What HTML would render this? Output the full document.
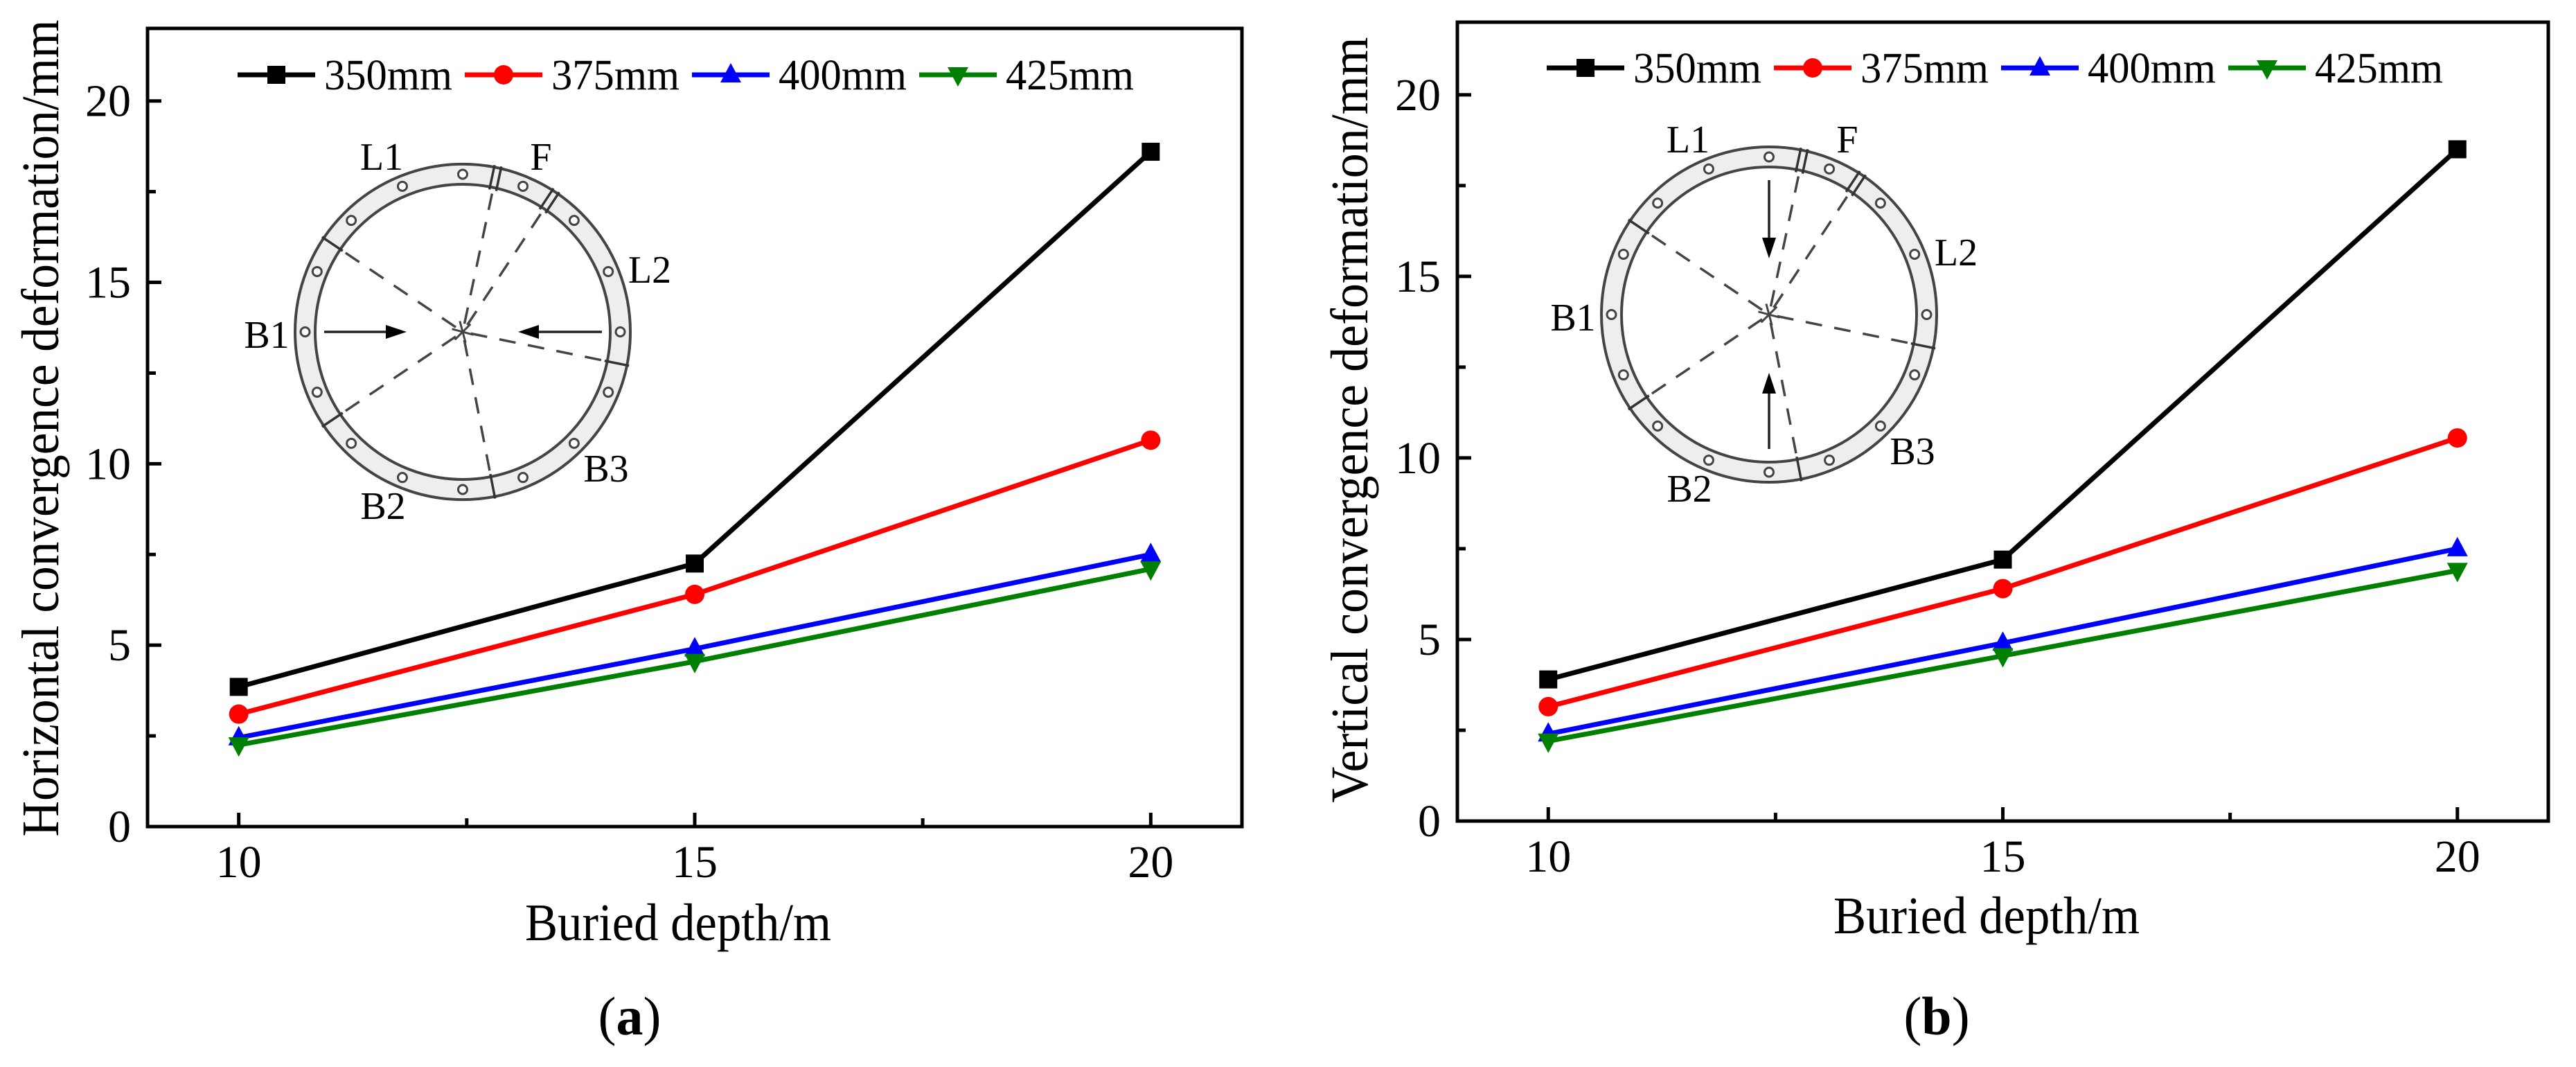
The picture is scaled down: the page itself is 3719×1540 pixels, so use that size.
<!DOCTYPE html>
<html><head><meta charset="utf-8">
<style>
html,body{margin:0;padding:0;background:#fff;}
svg{display:block;font-family:"Liberation Serif",serif;}
</style></head>
<body>
<svg id="fig" width="3719" height="1540" viewBox="0 0 3719 1540" xmlns="http://www.w3.org/2000/svg"></svg>
<script>
const categories = [10, 15, 20];
const seriesNames = ["350mm", "375mm", "400mm", "425mm"];
const seriesColors = ["#000000", "#ff0000", "#0000ff", "#008000"];
const seriesMarkers = ["square", "circle", "triangle-up", "triangle-down"];
const hSeries350 = [3.85, 7.25, 18.6];
const hSeries375 = [3.1, 6.4, 10.65];
const hSeries400 = [2.45, 4.9, 7.5];
const hSeries425 = [2.25, 4.55, 7.1];
const vSeries350 = [3.9, 7.2, 18.5];
const vSeries375 = [3.15, 6.4, 10.55];
const vSeries400 = [2.4, 4.9, 7.5];
const vSeries425 = [2.2, 4.55, 6.9];
const yTickLabels = [0, 5, 10, 15, 20];
const xTickLabels = [10, 15, 20];
const yMinorTicks = [2.5, 7.5, 12.5, 17.5];
const xMinorTicks = [12.5, 17.5];

const NS = "http://www.w3.org/2000/svg";
const svg = document.getElementById("fig");
function mk(tag, attrs, parent) {
  const e = document.createElementNS(NS, tag);
  for (const k in attrs) e.setAttribute(k, attrs[k]);
  (parent || svg).appendChild(e);
  return e;
}

function drawInset(g, cx, cy, mode) {
  const R = 242, r = 213, rm = (R + r) / 2;
  const ring = mk("path", {d: `M${cx-R},${cy} a${R},${R} 0 1,0 ${2*R},0 a${R},${R} 0 1,0 ${-2*R},0 Z M${cx-r},${cy} a${r},${r} 0 1,1 ${2*r},0 a${r},${r} 0 1,1 ${-2*r},0 Z`, fill: "#eeeeee", "fill-rule": "evenodd", stroke: "#444", "stroke-width": 4}, g);
  
  
  for (let i = 0; i < 16; i++) {
    const a = i * 22.5 * Math.PI / 180;
    const h = mk("circle", {cx: cx + rm*Math.sin(a), cy: cy - rm*Math.cos(a), r: 6.5, fill: "#fff", stroke: "#444", "stroke-width": 3}, g);
    
    
  }
  const joints = [12, 33.5, -56, -124, 169, 101.5];
  joints.forEach((deg, idx) => {
    const a = deg * Math.PI / 180, s = Math.sin(a), c = Math.cos(a);
    const dl = mk("line", {x1: cx + 12*s, y1: cy - 12*c, x2: cx + (r)*s, y2: cy - (r)*c, stroke: "#444", "stroke-width": 3.5, "stroke-dasharray": "24,18"}, g);
    
    
    const offs = idx < 2 ? [-5, 5] : [0];
    offs.forEach(o => {
      const px = c * o, py = s * o;
      const jl = mk("line", {x1: cx + (r-4)*s + px, y1: cy - (r-4)*c + py, x2: cx + (R+3)*s + px, y2: cy - (R+3)*c + py, stroke: "#333", "stroke-width": 3.5}, g);
      
      
    });
  });
  for (let k = 0; k < 3; k++) {
    const a = (k * 60 + 15) * Math.PI / 180;
    const sl = mk("line", {x1: cx - 16*Math.cos(a), y1: cy - 16*Math.sin(a), x2: cx + 16*Math.cos(a), y2: cy + 16*Math.sin(a), stroke: "#444", "stroke-width": 3}, g);
    
    
  }
  const labels = [["L1", -117, -253], ["F", 113, -253], ["L2", 270, -90], ["B1", -283, 4], ["B3", 207, 197], ["B2", -115, 251]];
  labels.forEach(l => {
    const t = mk("text", {x: cx + l[1], y: cy + l[2] + 19, "font-size": 56, "text-anchor": "middle", fill: "#000"}, g);
    t.textContent = l[0];
    
    
  });
  const arrows = mode === "h"
    ? [[cx-200, cy, cx-81, cy], [cx+201, cy, cx+80, cy]]
    : [[cx, cy-194, cx, cy-81], [cx, cy+194, cx, cy+84]];
  arrows.forEach(a => {
    const dx = a[2]-a[0], dy = a[3]-a[1], L = Math.hypot(dx, dy), ux = dx/L, uy = dy/L;
    const bx = a[2] - ux*30, by = a[3] - uy*30;
    const ln = mk("line", {x1: a[0], y1: a[1], x2: bx, y2: by, stroke: "#222", "stroke-width": 3.5}, g);
    
    
    const hd = mk("polygon", {points: `${a[2]},${a[3]} ${bx - uy*10},${by + ux*10} ${bx + uy*10},${by - ux*10}`, fill: "#000"}, g);
    
    
  });
}

function marker(g, type, x, y, color) {
  let e;
  if (type === "square") e = mk("rect", {x: x-13, y: y-13, width: 26, height: 26, fill: color}, g);
  else if (type === "circle") e = mk("circle", {cx: x, cy: y, r: 14, fill: color}, g);
  else if (type === "triangle-up") e = mk("polygon", {points: `${x},${y-17} ${x-15},${y+11} ${x+15},${y+11}`, fill: color}, g);
  else e = mk("polygon", {points: `${x},${y+17} ${x-15},${y-11} ${x+15},${y-11}`, fill: color}, g);
  return e;
}

function drawChart(cfg) {
  const g = mk("g", {});
  
  
  const X = v => cfg.left + (v - 9) / 12 * (cfg.right - cfg.left);
  const Y = v => cfg.bottom - v / 22 * (cfg.bottom - cfg.top);
  const ig = mk("g", {}, g);
  
  
  drawInset(ig, cfg.insetX, cfg.insetY, cfg.mode);
  cfg.series.forEach((vals, si) => {
    const sg = mk("g", {}, g);
    
    
    const pts = vals.map((v, i) => X(categories[i]) + "," + Y(v)).join(" ");
    const pl = mk("polyline", {points: pts, fill: "none", stroke: seriesColors[si], "stroke-width": 7}, sg);
    
    
    vals.forEach((v, i) => {
      const m = marker(sg, seriesMarkers[si], X(categories[i]), Y(v), seriesColors[si]);
      
      
    });
  });
  const fr = mk("rect", {x: cfg.left, y: cfg.top, width: cfg.right - cfg.left, height: cfg.bottom - cfg.top, fill: "none", stroke: "#000", "stroke-width": 5}, g);
  
  
  yTickLabels.forEach(v => {
    const t = mk("line", {x1: cfg.left, y1: Y(v), x2: cfg.left + 20, y2: Y(v), stroke: "#000", "stroke-width": 5}, g);
    
    
    const l = mk("text", {x: cfg.left - 24, y: Y(v) + 22, "font-size": 66, "text-anchor": "end"}, g);
    l.textContent = v;
    
    
  });
  yMinorTicks.forEach(v => {
    const t = mk("line", {x1: cfg.left, y1: Y(v), x2: cfg.left + 12, y2: Y(v), stroke: "#000", "stroke-width": 5}, g);
    
    
  });
  xTickLabels.forEach(v => {
    const t = mk("line", {x1: X(v), y1: cfg.bottom, x2: X(v), y2: cfg.bottom - 20, stroke: "#000", "stroke-width": 5}, g);
    
    
    const l = mk("text", {x: X(v), y: cfg.bottom + 73, "font-size": 66, "text-anchor": "middle"}, g);
    l.textContent = v;
    
    
  });
  xMinorTicks.forEach(v => {
    const t = mk("line", {x1: X(v), y1: cfg.bottom, x2: X(v), y2: cfg.bottom - 12, stroke: "#000", "stroke-width": 5}, g);
    
    
  });
  const lg = mk("g", {}, g);
  
  
  seriesNames.forEach((n, si) => {
    const x0 = cfg.legX + si * cfg.legStep;
    const eg = mk("g", {}, lg);
    
    
    mk("line", {x1: x0, y1: cfg.legY, x2: x0 + 112, y2: cfg.legY, stroke: seriesColors[si], "stroke-width": 7}, eg);
    marker(eg, seriesMarkers[si], x0 + 56, cfg.legY, seriesColors[si]);
    const t = mk("text", {x: x0 + 125, y: cfg.legY + 21, "font-size": 62, textLength: 185, lengthAdjust: "spacingAndGlyphs"}, eg);
    t.textContent = n;
  });
  const xt = mk("text", {x: cfg.xTitleX, y: cfg.xTitleY, "font-size": 76, "text-anchor": "middle", textLength: 442, lengthAdjust: "spacingAndGlyphs"}, g);
  xt.textContent = "Buried depth/m";
  
  
  const yt = mk("text", {x: 0, y: 0, "font-size": 76, "text-anchor": "middle", textLength: cfg.yTitleLen, lengthAdjust: "spacingAndGlyphs", transform: `translate(${cfg.yTitleX},${cfg.yTitleY}) rotate(-90)`}, g);
  yt.textContent = cfg.yTitle;
  
  
  const pl = mk("text", {x: cfg.panelX, y: 1493, "font-size": 78, "text-anchor": "middle"}, g);
  
  
  pl.appendChild(document.createTextNode("("));
  const b = mk("tspan", {"font-weight": "bold"}, pl);
  b.textContent = cfg.panel;
  pl.appendChild(document.createTextNode(")"));
}

drawChart({name: "chart-horizontal", mode: "h", left: 213, right: 1793, top: 41, bottom: 1193,
  series: [hSeries350, hSeries375, hSeries400, hSeries425],
  insetX: 668, insetY: 479, legX: 343, legY: 108, legStep: 328,
  xTitleX: 979, xTitleY: 1357, yTitleX: 84, yTitleY: 618, yTitleLen: 1179,
  yTitle: "Horizontal convergence deformation/mm", panelX: 909, panel: "a"});
drawChart({name: "chart-vertical", mode: "v", left: 2104, right: 3679, top: 32, bottom: 1185,
  series: [vSeries350, vSeries375, vSeries400, vSeries425],
  insetX: 2554, insetY: 454, legX: 2233, legY: 98, legStep: 328,
  xTitleX: 2868, xTitleY: 1347, yTitleX: 1974, yTitleY: 606, yTitleLen: 1105,
  yTitle: "Vertical convergence deformation/mm", panelX: 2796, panel: "b"});
</script>
</body></html>
